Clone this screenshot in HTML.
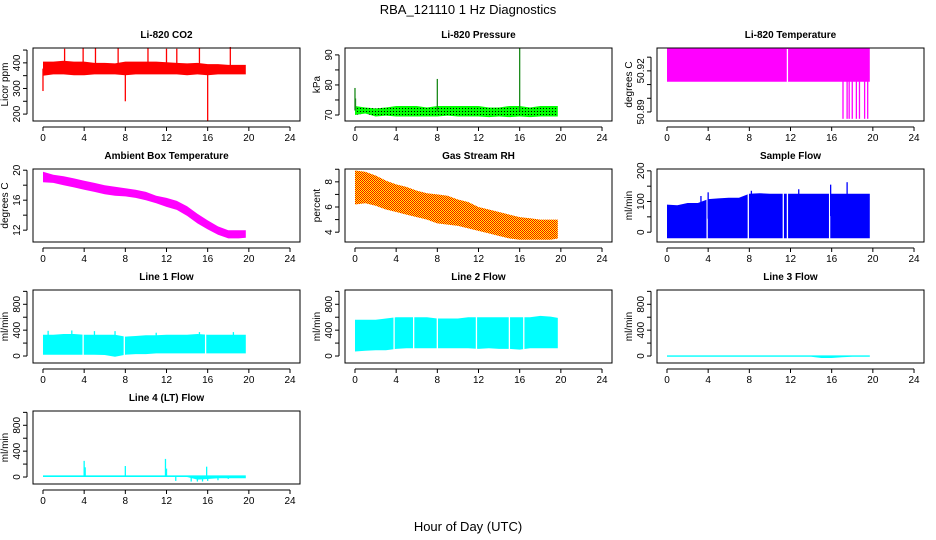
<!DOCTYPE html>
<html><head><meta charset="utf-8"><style>
html,body{margin:0;padding:0;background:#fff;}
svg{display:block;font-family:"Liberation Sans",Arial,sans-serif;}
</style></head><body>
<svg id="c" width="936" height="540" viewBox="0 0 936 540">
<defs>
<pattern id="rhpat" width="2" height="2" patternUnits="userSpaceOnUse"><rect width="2" height="2" fill="#ffff00"/><rect width="1" height="1" fill="#ff0000"/><rect x="1" y="1" width="1" height="1" fill="#ff0000"/></pattern>
<pattern id="prpat" width="3" height="3" patternUnits="userSpaceOnUse"><rect width="3" height="3" fill="#00ff00"/><rect width="1" height="1" fill="#000"/></pattern>
</defs>
<text x="468" y="14" text-anchor="middle" font-size="13">RBA_121110  1 Hz Diagnostics</text>
<text x="468" y="531" text-anchor="middle" font-size="13">Hour of Day (UTC)</text>
</svg>
<script>
const xTicks=[0,4,8,12,16,20,24];
const hrs=[0,1,2,3,4,5,6,7,8,9,10,11,12,13,14,15,16,17,18,19,19.7];

const co2Lo=[350,355,355,352,352,355,355,355,352,355,355,355,355,355,352,355,352,355,355,355,355];
const co2Hi=[405,405,408,405,405,400,400,398,405,405,405,405,402,400,398,400,395,395,392,392,392];
const co2Spk=[[0,290],[2.1,455],[3.9,460],[5.1,460],[7.3,460],[8,250],[10.2,460],[12,455],[13,455],[15.2,460],[16,175],[18.2,462]];

const prLo=[70,70.5,69.5,69.8,69.5,69.5,69.5,69.5,69.5,69.8,69.5,69.5,69.5,69.3,69.5,69.3,69.5,69.3,69.5,69.5,69.5];
const prHi=[73,72.5,72.2,72.5,73,73,73,72.5,73,73,73,73,73,72.5,72.5,73,73,72.5,73,73,73];
const prSpk=[[0,79],[0.05,75.5],[8,82],[16,92.3]];

const tpLo=[50.912,50.912,50.912,50.912,50.912,50.912,50.912,50.912,50.912,50.912,50.912,50.912,50.912,50.912,50.912,50.912,50.912,50.912,50.912,50.912,50.912];
const tpHi=[50.937,50.937,50.937,50.937,50.937,50.937,50.937,50.937,50.937,50.937,50.937,50.937,50.937,50.937,50.937,50.937,50.937,50.937,50.937,50.937,50.937];
const tpSpk=[[17.1,50.885],[17.5,50.885],[17.7,50.885],[18,50.885],[18.4,50.885],[18.7,50.885],[19.2,50.885],[19.5,50.885]];
const tpGap=[11.7];

const abLo=[18.4,18.3,18.0,17.7,17.4,17.1,16.8,16.6,16.5,16.3,16.0,15.6,15.1,14.7,13.9,12.9,12.1,11.4,10.9,10.9,11.0];
const abHi=[19.8,19.4,19.2,18.9,18.6,18.3,18.0,17.8,17.6,17.4,17.1,16.6,16.3,15.9,15.2,14.2,13.3,12.5,12.0,12.0,12.0];

const rhLo=[6.2,6.3,6.1,5.8,5.6,5.4,5.2,5.0,4.7,4.6,4.5,4.3,4.1,3.9,3.7,3.5,3.4,3.4,3.4,3.4,3.5];
const rhHi=[8.9,8.8,8.5,8.1,7.8,7.6,7.3,7.1,7.0,6.9,6.6,6.4,6.0,5.8,5.6,5.4,5.2,5.1,5.0,5.0,5.0];

const sfLo=[-20,-20,-20,-20,-20,-20,-20,-20,-20,-20,-20,-20,-20,-20,-20,-20,-20,-20,-20,-20,-20];
const sfHi=[90,88,95,95,108,110,112,112,125,127,125,125,125,125,125,125,125,125,125,125,125];
const sfSpk=[[3.3,118],[4,130],[8.2,135],[12.8,140],[15.9,155],[17.5,163]];
const sfGap=[3.9,7.9,11.3,11.7,15.8];

const l1Lo=[20,20,20,20,20,20,15,-10,20,30,30,40,40,40,40,40,40,40,40,40,40];
const l1Hi=[330,330,340,340,330,330,330,330,300,310,320,320,330,330,330,340,330,330,330,330,330];
const l1Spk=[[0.5,390],[2.8,395],[5,385],[7,385],[11,360],[15.2,370],[18.5,370]];
const l1Gap=[3.9,7.9,15.8];

const l2Lo=[70,80,90,90,110,120,120,120,120,120,120,120,110,120,110,110,100,120,120,120,120];
const l2Hi=[560,560,560,580,600,600,600,600,580,580,580,600,600,600,600,600,600,600,620,610,590];
const l2Gap=[3.8,5.7,8,11.8,15,16.4];

const l3Lo=[-10,-10,-10,-10,-10,-10,-10,-10,-10,-10,-10,-10,-10,-10,-10,-30,-30,-20,-10,-10,-10];
const l3Hi=[10,10,10,10,10,10,10,10,10,10,10,10,10,10,10,10,10,10,10,10,10];

const l4Lo=[0,0,0,0,0,0,0,0,0,0,0,0,0,0,0,-40,-30,-20,-20,-20,-20];
const l4Hi=[25,25,25,25,25,25,25,25,25,25,25,25,25,25,25,25,25,25,25,25,25];
const l4Spk=[[4,250],[4.1,150],[8,170],[11.9,280],[12,130],[12.9,-60],[14.4,-70],[15,-70],[15.5,-70],[15.9,160],[16,-60],[17,-50],[18,-30]];

const svg=document.getElementById('c');
const NS='http://www.w3.org/2000/svg';
function mk(t,a,p){const e=document.createElementNS(NS,t);for(const k in a)e.setAttribute(k,a[k]);(p||svg).appendChild(e);return e;}

function panel(o){
  const bx=33+312*o.col, bw=267, by=48+121*o.row, bh=73;
  const g=mk('g',{});
  
  
  const X=h=>bx+(h+0.97)/25.94*bw;
  const Y=v=>by+bh-(v-o.ymin)/(o.ymax-o.ymin)*bh;
  // band
  let pts=[];
  for(let i=0;i<hrs.length;i++)pts.push(X(hrs[i]).toFixed(1)+','+Y(o.hi[i]).toFixed(1));
  for(let i=hrs.length-1;i>=0;i--)pts.push(X(hrs[i]).toFixed(1)+','+Y(o.lo[i]).toFixed(1));
  const band=mk('polygon',{points:pts.join(' '),fill:o.fill},g);
  
  
  (o.gap||[]).forEach(h=>{
    const l=mk('line',{x1:X(h),x2:X(h),y1:by+1,y2:by+bh-1,stroke:'#fff','stroke-width':1.3},g);
    
    
  });
  (o.spk||[]).forEach(s=>{
    const i=Math.min(hrs.length-1,Math.round(s[0]));
    const mid=(o.lo[i]+o.hi[i])/2;
    const l=mk('line',{x1:X(s[0]),x2:X(s[0]),y1:Y(mid),y2:Y(s[1]),stroke:o.spkc||o.fill,'stroke-width':1.3},g);
    
    
  });
  // box
  const b=mk('rect',{x:bx,y:by,width:bw,height:bh,fill:'none',stroke:'#000','stroke-width':1},g);
  
  
  // x axis
  const ax=mk('g',{},g);
  
  
  mk('line',{x1:X(0),x2:X(24),y1:by+bh+6,y2:by+bh+6,stroke:'#000'},ax);
  xTicks.forEach(t=>{
    mk('line',{x1:X(t),x2:X(t),y1:by+bh+6,y2:by+bh+10,stroke:'#000'},ax);
    const tx=mk('text',{x:X(t),y:by+bh+20,'text-anchor':'middle','font-size':10},ax);
    tx.textContent=t;
  });
  // y axis
  const ay=mk('g',{},g);
  
  
  const t0=o.ticks[0],t1=o.ticks[o.ticks.length-1];
  mk('line',{x1:bx-6,x2:bx-6,y1:Y(t0),y2:Y(t1),stroke:'#000'},ay);
  o.ticks.forEach(t=>mk('line',{x1:bx-10,x2:bx-6,y1:Y(t),y2:Y(t),stroke:'#000'},ay));
  o.labels.forEach(t=>{
    const x=bx-13,y=Y(t);
    const tx=mk('text',{x:x,y:y,'text-anchor':'middle','font-size':10,transform:`rotate(-90 ${x} ${y})`},ay);
    tx.textContent=t;
  });
  const yt=mk('text',{x:bx-25,y:by+bh/2,'text-anchor':'middle','font-size':10,transform:`rotate(-90 ${bx-25} ${by+bh/2})`},g);
  
  
  yt.textContent=o.ylab;
  const tt=mk('text',{x:bx+bw/2,y:by-10,'text-anchor':'middle','font-size':10,'font-weight':'bold'},g);
  
  
  tt.textContent=o.title;
}

const fl=[-108,1021],ft=[0,200,400,600,800,1000],fLab=[0,400,800];
panel({name:'co2-panel',col:0,row:0,title:'Li-820 CO2',ylab:'Licor ppm',ymin:173,ymax:458,ticks:[200,250,300,350,400,450],labels:[200,300,400],lo:co2Lo,hi:co2Hi,spk:co2Spk,fill:'#ff0000'});
panel({name:'pressure-panel',col:1,row:0,title:'Li-820 Pressure',ylab:'kPa',ymin:68,ymax:92.3,ticks:[70,75,80,85,90],labels:[70,80,90],lo:prLo,hi:prHi,spk:prSpk,fill:'url(#prpat)',spkc:'#1a8a1a'});
panel({name:'temperature-panel',col:2,row:0,title:'Li-820 Temperature',ylab:'degrees C',ymin:50.8834,ymax:50.9367,ticks:[50.89,50.90,50.91,50.92,50.93],labels:['50.89','50.92'].map(Number),lo:tpLo,hi:tpHi,spk:tpSpk,gap:tpGap,fill:'#ff00ff'});
panel({name:'ambient-temp-panel',col:0,row:1,title:'Ambient Box Temperature',ylab:'degrees C',ymin:10.42,ymax:20.16,ticks:[12,14,16,18,20],labels:[12,16,20],lo:abLo,hi:abHi,fill:'#ff00ff'});
panel({name:'rh-panel',col:1,row:1,title:'Gas Stream RH',ylab:'percent',ymin:3.22,ymax:9.02,ticks:[4,5,6,7,8,9],labels:[4,6,8],lo:rhLo,hi:rhHi,fill:'url(#rhpat)'});
panel({name:'sample-flow-panel',col:2,row:1,title:'Sample Flow',ylab:'ml/min',ymin:-32,ymax:206,ticks:[0,50,100,150,200],labels:[0,100,200],lo:sfLo,hi:sfHi,spk:sfSpk,gap:sfGap,fill:'#0000ff'});
panel({name:'line1-flow-panel',col:0,row:2,title:'Line 1 Flow',ylab:'ml/min',ymin:fl[0],ymax:fl[1],ticks:ft,labels:fLab,lo:l1Lo,hi:l1Hi,spk:l1Spk,gap:l1Gap,fill:'#00ffff'});
panel({name:'line2-flow-panel',col:1,row:2,title:'Line 2 Flow',ylab:'ml/min',ymin:fl[0],ymax:fl[1],ticks:ft,labels:fLab,lo:l2Lo,hi:l2Hi,gap:l2Gap,fill:'#00ffff'});
panel({name:'line3-flow-panel',col:2,row:2,title:'Line 3 Flow',ylab:'ml/min',ymin:fl[0],ymax:fl[1],ticks:ft,labels:fLab,lo:l3Lo,hi:l3Hi,fill:'#00ffff'});
panel({name:'line4-flow-panel',col:0,row:3,title:'Line 4 (LT) Flow',ylab:'ml/min',ymin:fl[0],ymax:fl[1],ticks:ft,labels:fLab,lo:l4Lo,hi:l4Hi,spk:l4Spk,fill:'#00ffff'});
</script>
</body></html>
